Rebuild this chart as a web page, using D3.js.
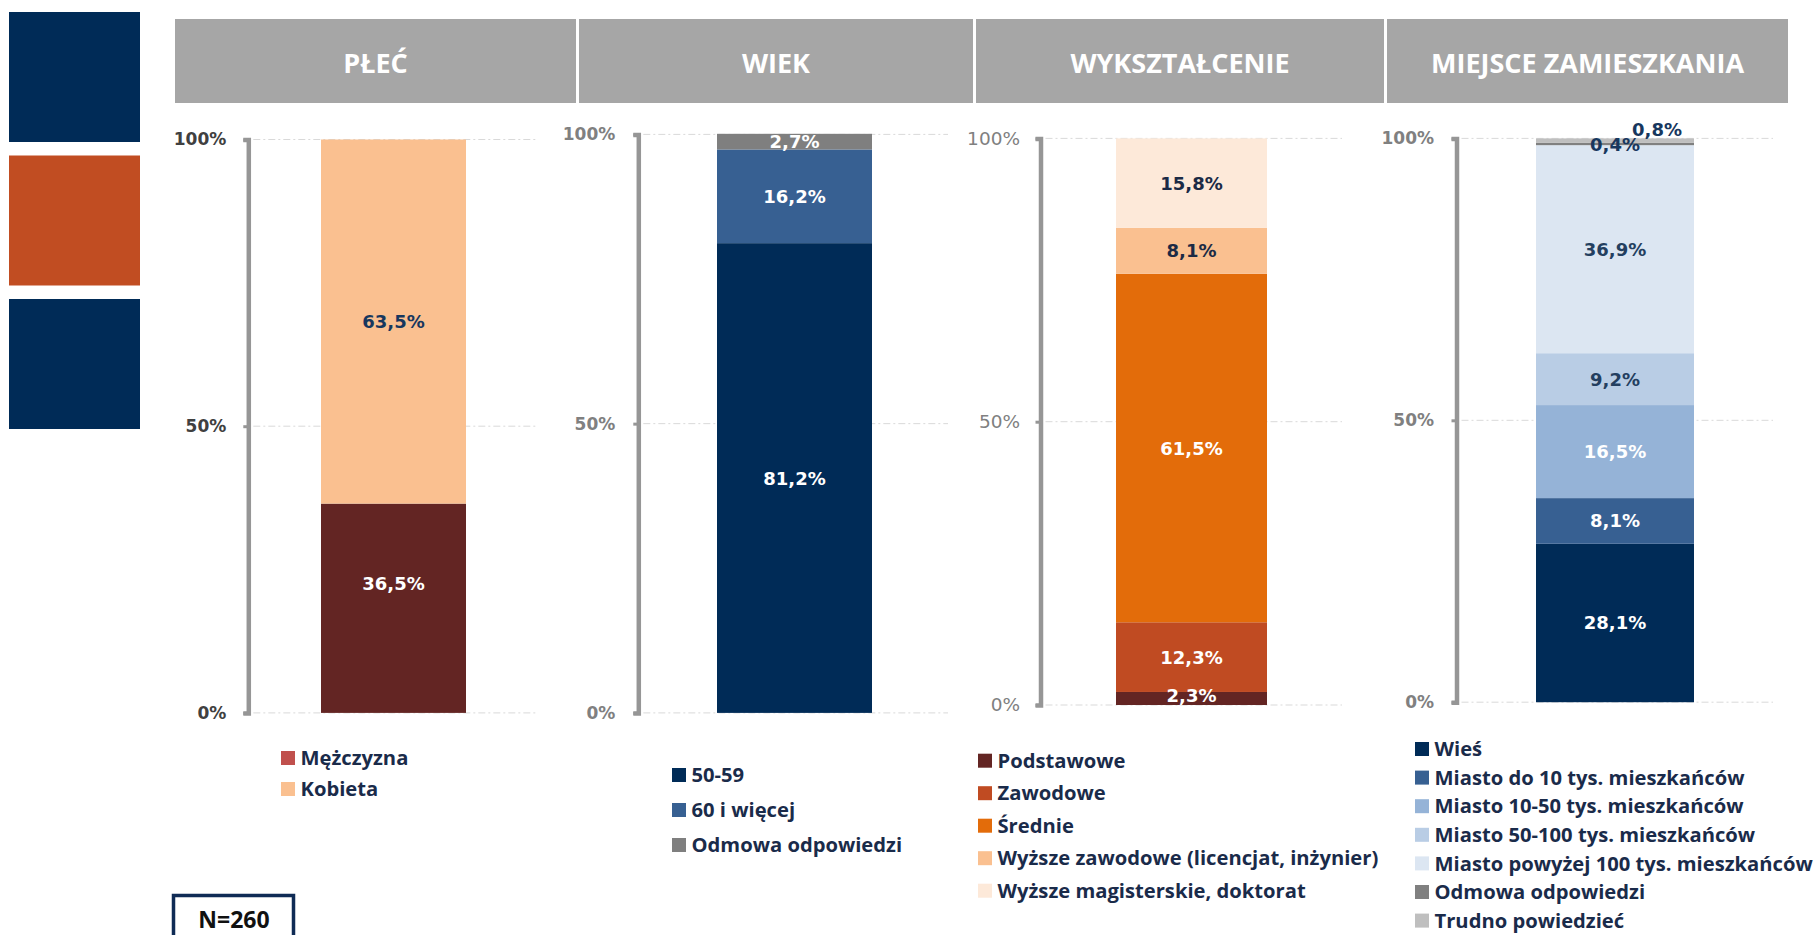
<!DOCTYPE html>
<html>
<head>
<meta charset="utf-8">
<script src="https://cdn.jsdelivr.net/npm/d3@7"></script>
<style>
  body { margin: 0; background: #ffffff; }
  svg { display: block; }
</style>
</head>
<body>
<svg id="chart"></svg>
<script>
// Data
const headers = ["PŁEĆ", "WIEK", "WYKSZTAŁCENIE", "MIEJSCE ZAMIESZKANIA"];

const plecLabels = ["Mężczyzna", "Kobieta"];
const plecValues = [36.5, 63.5];

const wiekLabels = ["50-59", "60 i więcej", "Odmowa odpowiedzi"];
const wiekValues = [81.2, 16.2, 2.7];

const wyksztLabels = ["Podstawowe", "Zawodowe", "Średnie", "Wyższe zawodowe (licencjat, inżynier)", "Wyższe magisterskie, doktorat"];
const wyksztValues = [2.3, 12.3, 61.5, 8.1, 15.8];

const miejsceLabels = ["Wieś", "Miasto do 10 tys. mieszkańców", "Miasto 10-50 tys. mieszkańców", "Miasto 50-100 tys. mieszkańców", "Miasto powyżej 100 tys. mieszkańców", "Odmowa odpowiedzi", "Trudno powiedzieć"];
const miejsceValues = [28.1, 8.1, 16.5, 9.2, 36.9, 0.4, 0.8];

const tickValues = [0, 50, 100];
const sampleLabel = "N=260";

// Colours
const navy = "#002b57";
const textNavy = "#1a2b4a";

// Layout for each panel (positions and styles only)
const panels = [
    {
        title: headers[0], labels: plecLabels, values: plecValues,
        colors: ["#632523", "#fac090"], legendColors: ["#c0504d", "#fac090"],
        labelColors: ["#ffffff", "#17375e"], nudge: [[0, -25], [0, 0]],
        header: [175, 576], axisX: 248.3, y0: 712.9, y1: 139.5, bar: [321, 466], gridEnd: 538,
        tickColor: "#404040", tickWeight: "bold", tickPad: 17, legend: { x: 281, y: 758, gap: 31 }
    },
    {
        title: headers[1], labels: wiekLabels, values: wiekValues,
        colors: [navy, "#376092", "#7f7f7f"], legendColors: [navy, "#376092", "#7f7f7f"],
        labelColors: ["#ffffff", "#ffffff", "#ffffff"], nudge: [[0, 0], [0, 0], [0, 0]],
        header: [579, 973], axisX: 638.3, y0: 712.9, y1: 134.4, bar: [717, 872], gridEnd: 948,
        tickColor: "#808080", tickWeight: "bold", tickPad: 18, legend: { x: 672, y: 775, gap: 35 }
    },
    {
        title: headers[2], labels: wyksztLabels, values: wyksztValues,
        colors: ["#632523", "#c04b22", "#e36c0a", "#fac090", "#fde9d9"],
        legendColors: ["#632523", "#c04b22", "#e36c0a", "#fac090", "#fde9d9"],
        labelColors: ["#ffffff", "#ffffff", "#ffffff", "#1b2a45", "#1b2a45"],
        nudge: [[0, -3], [0, 0], [0, 0], [0, 0], [0, 0]],
        header: [976, 1384], axisX: 1040.5, y0: 705, y1: 138.4, bar: [1116, 1267], gridEnd: 1342,
        tickColor: "#808080", tickWeight: "normal", tickPad: 15.5, legend: { x: 978, y: 760.7, gap: 32.5 }
    },
    {
        title: headers[3], labels: miejsceLabels, values: miejsceValues,
        colors: [navy, "#376092", "#95b3d7", "#b9cde5", "#dce6f2", "#808080", "#bfbfbf"],
        legendColors: [navy, "#376092", "#95b3d7", "#b9cde5", "#dce6f2", "#808080", "#bfbfbf"],
        labelColors: ["#ffffff", "#ffffff", "#ffffff", "#243f60", "#243f60", "#17375e", "#17375e"],
        nudge: [[0, 0], [0, 0], [0, 0], [0, 0], [0, 0], [0, 0], [42, -11]],
        header: [1387, 1788], axisX: 1456.5, y0: 702.2, y1: 138.4, bar: [1536, 1694], gridEnd: 1773,
        tickColor: "#808080", tickWeight: "bold", tickPad: 17.5, legend: { x: 1415, y: 749, gap: 28.6 }
    }
];

const svg = d3.select("#chart")
    .attr("width", 1820)
    .attr("height", 935);

const fmt = d => d3.format(".1f")(d).replace(".", ",") + "%";

// Decorative squares on the left
svg.selectAll("rect.deco")
    .data([navy, "#c14d22", navy])
    .join("rect")
    .attr("class", "deco")
    .attr("x", 9)
    .attr("y", (d, i) => 12 + i * 143.5)
    .attr("width", 131)
    .attr("height", 130)
    .attr("fill", d => d);

panels.forEach(p => {

    // Header bar
    svg.append("rect")
        .attr("x", p.header[0])
        .attr("y", 19)
        .attr("width", p.header[1] - p.header[0])
        .attr("height", 84)
        .attr("fill", "#a6a6a6");

    svg.append("text")
        .attr("x", (p.header[0] + p.header[1]) / 2)
        .attr("y", 73)
        .attr("text-anchor", "middle")
        .attr("fill", "#ffffff")
        .style("font-family", "'Open Sans', sans-serif")
        .style("font-weight", "bold")
        .style("font-size", "27px")
        .text(p.title);

    const yScale = d3.scaleLinear().domain([0, 100]).range([p.y0, p.y1]);
    const xScale = d3.scaleBand().domain(["total"]).range(p.bar).padding(0);

    // Background grid
    svg.selectAll(null)
        .data(tickValues)
        .join("line")
        .attr("x1", p.axisX + 5)
        .attr("x2", p.gridEnd)
        .attr("y1", d => yScale(d))
        .attr("y2", d => yScale(d))
        .attr("stroke", "#d9d9d9")
        .attr("stroke-width", 1)
        .attr("stroke-dasharray", "7,3,2,3");

    // Stacked segments
    const stacked = [];
    let acc = 0;
    p.values.forEach((v, i) => {
        stacked.push({ start: acc, end: acc + v, value: v, i });
        acc += v;
    });

    svg.selectAll(null)
        .data(stacked)
        .join("rect")
        .attr("x", xScale("total"))
        .attr("width", xScale.bandwidth())
        .attr("y", d => yScale(d.end))
        .attr("height", d => yScale(d.start) - yScale(d.end))
        .attr("fill", d => p.colors[d.i]);

    // Y axis
    const yAxis = d3.axisLeft(yScale)
        .tickValues(tickValues)
        .tickFormat(d => d + "%")
        .tickSizeInner(5)
        .tickSizeOuter(5)
        .tickPadding(p.tickPad);

    const ax = svg.append("g")
        .attr("transform", `translate(${p.axisX}, 0)`)
        .call(yAxis);

    ax.select(".domain")
        .attr("stroke", "#969696")
        .attr("stroke-width", 4.5);
    ax.selectAll(".tick line")
        .attr("stroke", "#969696")
        .attr("stroke-width", 3);
    ax.selectAll(".tick text")
        .attr("fill", p.tickColor)
        .style("font-family", "'DejaVu Sans', Verdana, sans-serif")
        .style("font-weight", p.tickWeight)
        .style("font-size", p.tickWeight === "bold" ? "17px" : "18.5px");

    // Value labels
    svg.selectAll(null)
        .data(stacked)
        .join("text")
        .attr("x", d => xScale("total") + xScale.bandwidth() / 2 + p.nudge[d.i][0])
        .attr("y", d => yScale((d.start + d.end) / 2) + p.nudge[d.i][1])
        .attr("dy", "0.36em")
        .attr("text-anchor", "middle")
        .attr("fill", d => p.labelColors[d.i])
        .style("font-family", "'DejaVu Sans', Verdana, sans-serif")
        .style("font-weight", "bold")
        .style("font-size", "18px")
        .text(d => fmt(d.value));

    // Legend
    const leg = svg.append("g");
    const rows = leg.selectAll("g")
        .data(p.labels)
        .join("g")
        .attr("transform", (d, i) => `translate(${p.legend.x}, ${p.legend.y + i * p.legend.gap})`);

    rows.append("rect")
        .attr("x", 0)
        .attr("y", -7)
        .attr("width", 14)
        .attr("height", 14)
        .attr("fill", (d, i) => p.legendColors[i]);

    rows.append("text")
        .attr("x", 19.5)
        .attr("dy", "0.36em")
        .attr("fill", textNavy)
        .style("font-family", "'Open Sans', sans-serif")
        .style("font-weight", "bold")
        .style("font-size", "20.2px")
        .text(d => d);
});

// Sample size box
svg.append("rect")
    .attr("x", 173.5)
    .attr("y", 895.5)
    .attr("width", 120)
    .attr("height", 50)
    .attr("fill", "#ffffff")
    .attr("stroke", "#0f2b55")
    .attr("stroke-width", 3.5);

svg.append("text")
    .attr("x", 234)
    .attr("y", 920)
    .attr("dy", "0.36em")
    .attr("text-anchor", "middle")
    .attr("fill", "#111111")
    .style("font-family", "'Open Sans', sans-serif")
    .style("font-weight", "bold")
    .style("font-size", "23px")
    .text(sampleLabel);
</script>
</body>
</html>
